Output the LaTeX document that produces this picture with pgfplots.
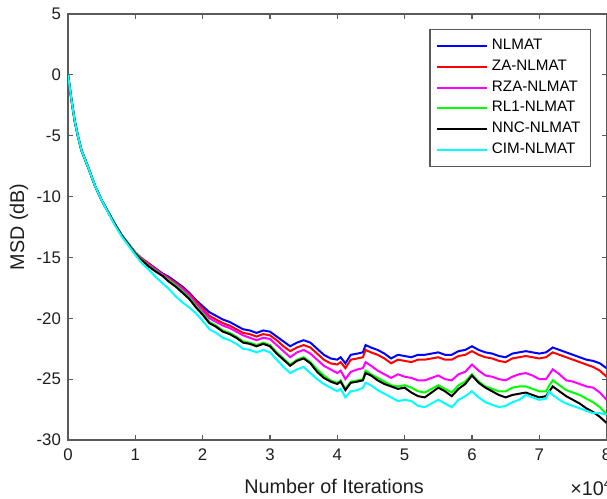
\documentclass[border=0pt]{standalone}
\usepackage{pgfplots}
\pgfplotsset{compat=1.18}
\usepackage{pgfplotstable}
\usepackage{fontspec}
\setmainfont{Liberation Sans}
\definecolor{axgray}{RGB}{90,90,90}
\definecolor{txtgray}{RGB}{30,30,30}
\definecolor{mblue}{RGB}{0,0,255}
\definecolor{mred}{RGB}{255,0,0}
\definecolor{mmag}{RGB}{255,0,255}
\definecolor{mgreen}{RGB}{0,255,0}
\definecolor{mcyan}{RGB}{0,255,255}
\pgfplotstableread{
x     b      r      m      g      k      c
0     0      0      0      0      0      0
0.05  -2.0   -2.0   -2.0   -2.0   -2.0   -2.0
0.1   -3.8   -3.8   -3.8   -3.8   -3.8   -3.8
0.15  -5.1   -5.1   -5.1   -5.1   -5.1   -5.1
0.2   -6.2   -6.2   -6.2   -6.2   -6.2   -6.2
0.3   -7.6   -7.6   -7.6   -7.6   -7.6   -7.6
0.4   -9.1   -9.1   -9.1   -9.1   -9.1   -9.1
0.5   -10.3  -10.3  -10.3  -10.3  -10.3  -10.3
0.6   -11.3  -11.3  -11.3  -11.3  -11.3  -11.35
0.7   -12.3  -12.3  -12.3  -12.3  -12.3  -12.4
0.8   -13.2  -13.2  -13.2  -13.2  -13.2  -13.3
0.9   -13.9  -13.9  -13.9  -13.9  -13.95 -14.05
1.0   -14.6  -14.6  -14.6  -14.65 -14.7  -14.8
1.1   -15.1  -15.1  -15.15 -15.2  -15.25 -15.5
1.2   -15.5  -15.5  -15.6  -15.7  -15.75 -16.0
1.3   -15.9  -15.95 -16.0  -16.1  -16.15 -16.6
1.4   -16.3  -16.35 -16.4  -16.5  -16.5  -17.1
1.5   -16.6  -16.7  -16.8  -16.9  -17.0  -17.6
1.6   -17.0  -17.1  -17.2  -17.3  -17.4  -18.2
1.7   -17.4  -17.5  -17.6  -17.8  -17.9  -18.7
1.8   -17.9  -18.0  -18.1  -18.3  -18.4  -19.1
1.9   -18.5  -18.6  -18.8  -19.0  -19.1  -19.6
2.0   -19.0  -19.2  -19.4  -19.6  -19.7  -20.2
2.1   -19.5  -19.8  -20.0  -20.3  -20.4  -20.9
2.2   -19.8  -20.1  -20.3  -20.6  -20.7  -21.2
2.3   -20.1  -20.4  -20.6  -21.0  -21.1  -21.6
2.4   -20.3  -20.6  -20.8  -21.2  -21.3  -21.8
2.5   -20.6  -20.9  -21.1  -21.5  -21.6  -22.1
2.6   -20.9  -21.2  -21.4  -21.9  -22.0  -22.5
2.7   -21.0  -21.3  -21.6  -22.0  -22.1  -22.6
2.8   -21.2  -21.5  -21.8  -22.2  -22.3  -22.8
2.9   -21.0  -21.3  -21.6  -22.0  -22.1  -22.6
3.0   -21.1  -21.4  -21.7  -22.2  -22.3  -22.8
3.1   -21.5  -21.8  -22.2  -22.8  -22.9  -23.4
3.2   -21.9  -22.3  -22.7  -23.3  -23.4  -24.0
3.3   -22.3  -22.7  -23.2  -23.8  -23.9  -24.5
3.4   -22.0  -22.4  -22.8  -23.4  -23.5  -24.2
3.5   -21.8  -22.2  -22.6  -23.2  -23.3  -24.0
3.6   -22.0  -22.4  -22.9  -23.6  -23.7  -24.5
3.7   -22.5  -22.9  -23.4  -24.2  -24.4  -25.0
3.8   -23.0  -23.4  -23.9  -24.7  -24.9  -25.4
3.9   -23.3  -23.7  -24.2  -25.1  -25.2  -25.7
4.0   -23.4  -23.8  -24.5  -25.3  -25.4  -26.0
4.05  -23.2  -23.6  -24.3  -25.1  -25.2  -25.8
4.12  -23.7  -24.1  -25.0  -25.8  -25.9  -26.5
4.2   -23.0  -23.4  -24.4  -25.2  -25.3  -26.0
4.3   -22.9  -23.3  -24.2  -25.1  -25.2  -25.9
4.38  -22.8  -23.2  -24.1  -25.0  -25.1  -25.7
4.42  -22.2  -22.6  -23.6  -24.3  -24.5  -25.3
4.5   -22.4  -22.8  -23.9  -24.6  -24.7  -25.5
4.6   -22.6  -23.0  -24.3  -24.9  -25.1  -25.9
4.7   -22.9  -23.3  -24.6  -25.2  -25.4  -26.2
4.8   -23.3  -23.7  -24.9  -25.5  -25.6  -26.5
4.9   -23.0  -23.4  -24.6  -25.6  -25.8  -26.8
5.0   -23.1  -23.5  -24.8  -25.5  -25.7  -26.7
5.1   -23.2  -23.6  -24.9  -25.7  -26.1  -26.8
5.2   -23.0  -23.4  -25.1  -26.0  -26.4  -27.2
5.3   -23.0  -23.4  -25.1  -26.1  -26.5  -27.3
5.4   -22.9  -23.3  -24.9  -25.8  -26.1  -27.0
5.5   -22.8  -23.2  -24.7  -25.5  -25.7  -26.7
5.6   -23.0  -23.4  -25.0  -25.8  -26.0  -27.0
5.7   -23.0  -23.4  -25.1  -26.1  -26.4  -27.3
5.8   -22.7  -23.1  -24.6  -25.5  -25.8  -26.7
5.9   -22.6  -23.0  -24.4  -25.2  -25.4  -26.4
6.0   -22.3  -22.7  -23.8  -24.6  -24.7  -26.0
6.1   -22.6  -23.0  -24.3  -25.2  -25.3  -26.5
6.2   -22.8  -23.2  -24.7  -25.6  -25.7  -26.9
6.3   -22.9  -23.3  -24.8  -25.8  -26.0  -27.1
6.4   -23.1  -23.5  -25.0  -26.0  -26.3  -27.3
6.5   -23.2  -23.6  -25.1  -26.0  -26.5  -27.2
6.6   -22.9  -23.3  -24.8  -25.7  -26.3  -26.9
6.7   -22.8  -23.2  -24.6  -25.6  -26.2  -26.7
6.8   -22.7  -23.1  -24.5  -25.6  -26.1  -26.3
6.9   -22.8  -23.2  -24.7  -25.8  -26.3  -26.5
7.0   -22.9  -23.3  -25.0  -26.0  -26.5  -26.7
7.1   -22.8  -23.2  -25.0  -26.0  -26.4  -26.6
7.15  -22.6  -23.0  -24.6  -25.5  -26.0  -26.0
7.2   -22.4  -22.8  -24.2  -25.1  -25.6  -26.3
7.3   -22.6  -23.0  -24.6  -25.5  -26.0  -26.7
7.4   -22.8  -23.2  -25.1  -25.9  -26.4  -27.0
7.5   -23.0  -23.4  -25.2  -26.1  -26.7  -27.2
7.6   -23.2  -23.6  -25.4  -26.3  -27.0  -27.4
7.7   -23.4  -23.8  -25.6  -26.6  -27.4  -27.6
7.8   -23.5  -24.0  -25.7  -26.9  -27.7  -27.8
7.9   -23.7  -24.3  -26.1  -27.3  -28.1  -27.8
8.0   -24.1  -24.8  -26.7  -27.9  -28.6  -27.9
}\msd
\begin{document}
\begin{tikzpicture}
\begin{axis}[
  name=ax,
  at={(0,0)}, anchor=south west,
  scale only axis,
  width=269.3pt, height=213pt,
  xmin=0, xmax=8, ymin=-30, ymax=5,
  xtick={0,1,...,8}, ytick={-30,-25,...,5},
  tick align=inside,
  major tick length=2.5pt,
  axis line style={axgray, line width=0.6pt},
  every tick/.style={axgray, line width=0.6pt},
  tick label style={font=\fontsize{8.4}{9}\selectfont, text=txtgray},
  /pgf/number format/assume math mode=true,
  xticklabel style={yshift=-1pt},
  xlabel={Number of Iterations},
  ylabel={MSD (dB)},
  label style={font=\fontsize{9.9}{11}\selectfont, text=txtgray},
  xlabel style={at={(axis description cs:0.494,-0.110)}, anchor=center},
  ylabel style={at={(axis description cs:-0.091,0.5)}, anchor=center},
  legend style={at={(0.971,0.965)}, anchor=north east,
    draw=axgray, line width=0.6pt,
    font=\fontsize{7.6}{8.5}\selectfont,
    row sep=-0.4pt, inner xsep=3pt, inner ysep=3pt,
    legend cell align=left},
  legend image code/.code={\draw[#1, line width=1pt] (0pt,0pt) -- (25pt,0pt);},
  every axis plot/.append style={line width=1pt},
]
\addplot[color=mblue] table[x=x, y=b] {\msd};
\addlegendentry{NLMAT}
\addplot[color=mred] table[x=x, y=r] {\msd};
\addlegendentry{ZA-NLMAT}
\addplot[color=mmag] table[x=x, y=m] {\msd};
\addlegendentry{RZA-NLMAT}
\addplot[color=mgreen] table[x=x, y=g] {\msd};
\addlegendentry{RL1-NLMAT}
\addplot[color=black] table[x=x, y=k] {\msd};
\addlegendentry{NNC-NLMAT}
\addplot[color=mcyan] table[x=x, y=c] {\msd};
\addlegendentry{CIM-NLMAT}
\end{axis}
\node[anchor=west, font=\fontsize{9.9}{11}\selectfont, text=txtgray, inner sep=0pt]
  at (251pt,-23.5pt) {×10\textsuperscript{4}};
\pgfresetboundingbox
\path[use as bounding box] (-34pt,-29.5pt) rectangle (269.5pt,220pt);
\end{tikzpicture}
\end{document}
